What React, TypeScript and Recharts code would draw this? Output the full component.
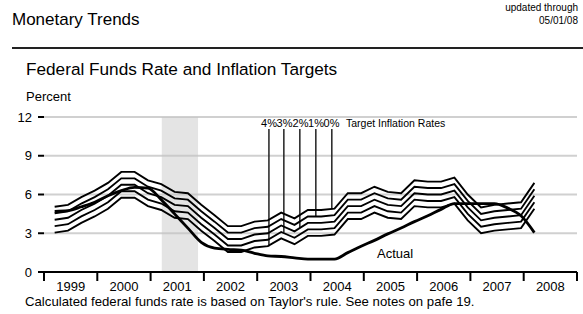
import { LineChart, Line, XAxis, YAxis, CartesianGrid, ReferenceArea, ReferenceLine } from 'recharts';

// quarterly observations, 1999Q1 .. 2008Q1
const YEARS = [1999, 2000, 2001, 2002, 2003, 2004, 2005, 2006, 2007, 2008];
const QUARTERS: number[] = [];
YEARS.forEach((y) => {
  [0.2, 0.45, 0.7, 0.95].forEach((q) => {
    if (y < 2008 || q === 0.2) QUARTERS.push(y + q);
  });
});

const target0 = [5.05, 5.2, 5.8, 6.3, 6.9, 7.75, 7.75, 7.1, 6.8, 6.2, 6.1, 5.2, 4.4, 3.55, 3.55, 3.9, 4.0, 4.6, 4.15, 4.8, 4.8, 4.9, 6.1, 6.1, 6.6, 6.2, 6.1, 7.1, 7.0, 7.0, 7.3, 6.0, 5.0, 5.2, 5.3, 5.4, 6.9];
const target1 = [4.55, 4.7, 5.3, 5.8, 6.4, 7.25, 7.25, 6.6, 6.3, 5.7, 5.6, 4.7, 3.9, 3.05, 3.05, 3.4, 3.5, 4.1, 3.65, 4.3, 4.3, 4.4, 5.6, 5.6, 6.1, 5.7, 5.6, 6.6, 6.5, 6.5, 6.8, 5.5, 4.5, 4.7, 4.8, 4.9, 6.4];
const target2 = [4.05, 4.2, 4.8, 5.3, 5.9, 6.75, 6.75, 6.1, 5.8, 5.2, 5.1, 4.2, 3.4, 2.55, 2.55, 2.9, 3.0, 3.6, 3.15, 3.8, 3.8, 3.9, 5.1, 5.1, 5.6, 5.2, 5.1, 6.1, 6.0, 6.0, 6.3, 5.0, 4.0, 4.2, 4.3, 4.4, 5.9];
const target3 = [3.55, 3.7, 4.3, 4.8, 5.4, 6.25, 6.25, 5.6, 5.3, 4.7, 4.6, 3.7, 2.9, 2.05, 2.05, 2.4, 2.5, 3.1, 2.65, 3.3, 3.3, 3.4, 4.6, 4.6, 5.1, 4.7, 4.6, 5.6, 5.5, 5.5, 5.8, 4.5, 3.5, 3.7, 3.8, 3.9, 5.4];
const target4 = [3.05, 3.2, 3.8, 4.3, 4.9, 5.75, 5.75, 5.1, 4.8, 4.2, 4.1, 3.2, 2.4, 1.55, 1.55, 1.9, 2.0, 2.6, 2.15, 2.8, 2.8, 2.9, 4.1, 4.1, 4.6, 4.2, 4.1, 5.1, 5.0, 5.0, 5.3, 4.0, 3.0, 3.2, 3.3, 3.4, 4.9];
const actual = [4.7, 4.75, 5.05, 5.4, 5.9, 6.3, 6.55, 6.5, 5.6, 4.5, 3.4, 2.3, 1.85, 1.75, 1.7, 1.45, 1.25, 1.2, 1.1, 1.0, 1.0, 1.0, 1.5, 2.0, 2.45, 2.95, 3.4, 3.9, 4.35, 4.85, 5.3, 5.3, 5.3, 5.3, 4.95, 4.35, 3.05];

const yTicks = [0, 3, 6, 9, 12];
const yearTicks = [1999, 2000, 2001, 2002, 2003, 2004, 2005, 2006, 2007, 2008, 2009];
const recession = [2001.21, 2001.89];

// pointers from the "x%" labels down to each target line
const targetLabels = ['4%', '3%', '2%', '1%', '0%'];
const pointerX = [2003.22, 2003.5, 2003.8, 2004.1, 2004.4];
const pointerEnd = [2.0, 3.05, 3.4, 4.3, 4.85];
const pointerTop = 11.07;

const data = QUARTERS.map((t, i) => ({
  t,
  t0: target0[i],
  t1: target1[i],
  t2: target2[i],
  t3: target3[i],
  t4: target4[i],
  actual: actual[i],
}));

const W = 583;
const H = 314;
const LEFT = 44;
const RIGHT = 6;
const HALF_YEAR = (W - LEFT - RIGHT) / 10 / 2;
const FONT = '"Liberation Sans", Arial, Helvetica, sans-serif';

function YearTick({ x, y, payload }: any) {
  if (payload.value >= 2009) return null;
  return (
    <text x={x + HALF_YEAR} y={y} dy="0.75em" textAnchor="middle" fontSize={13} fill="#000" fontFamily={FONT}>
      {payload.value}
    </text>
  );
}

export default function App() {
  const series = ['t0', 't1', 't2', 't3', 't4'];
  return (
    <div style={{ position: 'absolute', left: 0, top: 0, width: W, height: H, background: '#fff', fontFamily: FONT }}>
      <LineChart width={W} height={H} data={data} margin={{ top: 117, right: RIGHT, bottom: 0, left: 0 }}>
        <CartesianGrid vertical={false} stroke="#d0d0d0" strokeWidth={2} />
        <ReferenceArea x1={recession[0]} x2={recession[1]} y1={0} y2={12} fill="#c4c4c4" fillOpacity={0.45} stroke="none" />
        <XAxis
          dataKey="t"
          type="number"
          domain={[1999, 2009]}
          ticks={yearTicks}
          interval={0}
          height={42}
          tickSize={9}
          tickMargin={0}
          axisLine={{ stroke: '#000', strokeWidth: 2 }}
          tickLine={{ stroke: '#000', strokeWidth: 2 }}
          tick={<YearTick />}
        />
        <YAxis
          type="number"
          domain={[0, 12]}
          ticks={yTicks}
          width={LEFT}
          axisLine={false}
          tickSize={6}
          tickMargin={6}
          tickLine={{ stroke: '#000', strokeWidth: 2 }}
          tick={{ fontSize: 13, fill: '#000', fontFamily: FONT }}
        />
        {pointerX.map((px, i) => (
          <ReferenceLine
            key={targetLabels[i]}
            segment={[{ x: px, y: pointerTop }, { x: px, y: pointerEnd[i] }]}
            stroke="#222"
            strokeWidth={1.5}
          />
        ))}
        {series.map((k) => (
          <Line key={k} dataKey={k} type="linear" stroke="#000" strokeWidth={1.9} dot={false} isAnimationActive={false} />
        ))}
        <Line dataKey="actual" type="monotone" stroke="#000" strokeWidth={2.8} dot={false} isAnimationActive={false} />
      </LineChart>
      <svg width={W} height={H} style={{ position: 'absolute', left: 0, top: 0, pointerEvents: 'none' }} fontFamily={FONT}>
        <text x={12} y={25} fontSize={17} fill="#000">Monetary Trends</text>
        <text x={578} y={11} fontSize={10} fill="#000" textAnchor="end">updated through</text>
        <text x={578} y={24} fontSize={10} fill="#000" textAnchor="end">05/01/08</text>
        <line x1={12} x2={583} y1={48} y2={48} stroke="#222" strokeWidth={2} />
        <text x={26} y={75} fontSize={17.2} fill="#000">Federal Funds Rate and Inflation Targets</text>
        <text x={26} y={101} fontSize={13} fill="#000">Percent</text>
        {targetLabels.map((lab, i) => (
          <text key={lab} x={[269, 284.5, 300.5, 316, 331.5][i]} y={127} fontSize={11} fill="#000" textAnchor="middle">{lab}</text>
        ))}
        <text x={346} y={127} fontSize={10.5} fill="#000">Target Inflation Rates</text>
        <text x={377} y={258} fontSize={13} fill="#000">Actual</text>
        <text x={25} y={306} fontSize={13.2} fill="#000">Calculated federal funds rate is based on Taylor's rule. See notes on pafe 19.</text>
      </svg>
    </div>
  );
}
